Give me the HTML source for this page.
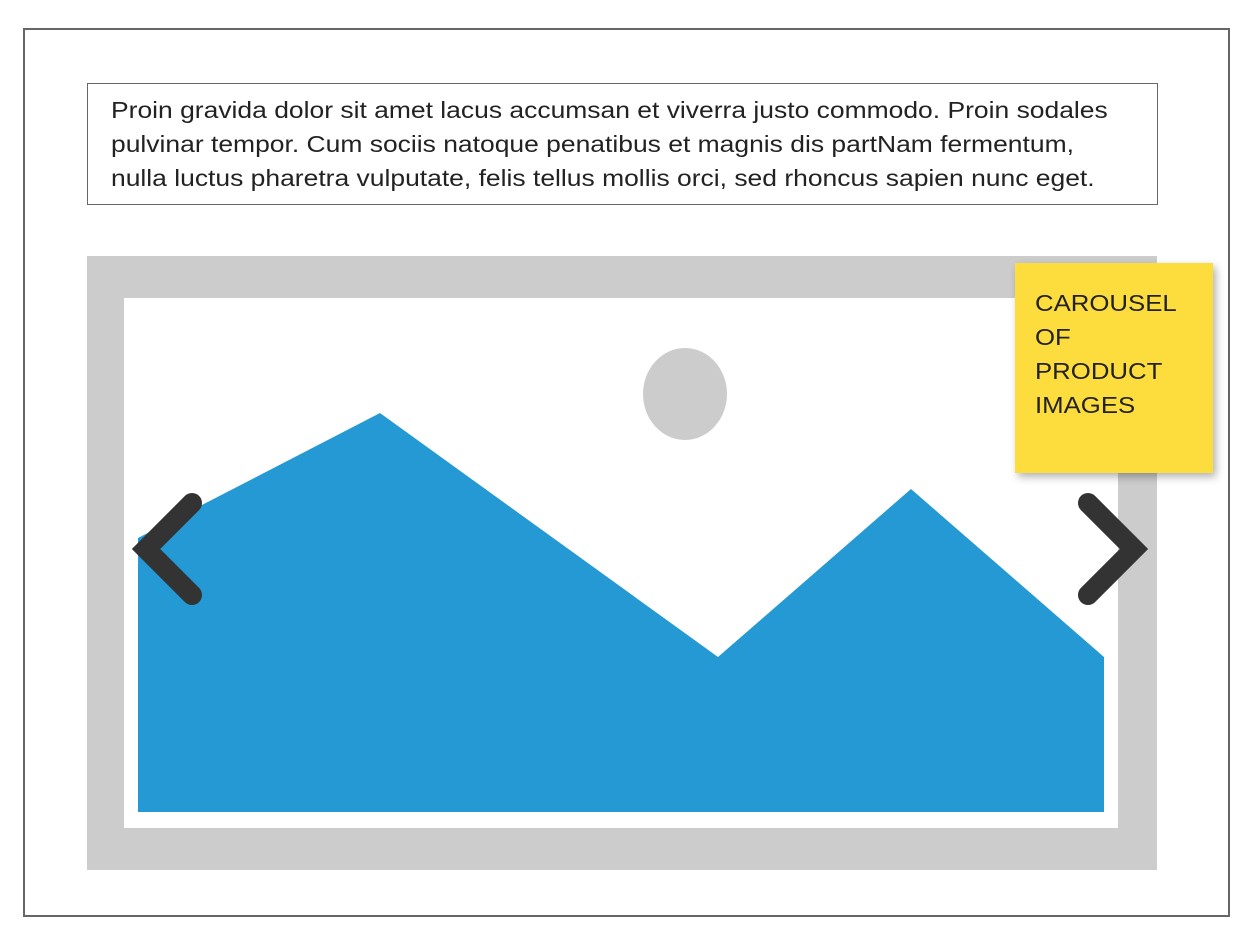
<!DOCTYPE html>
<html><head><meta charset="utf-8"><style>
html,body{margin:0;padding:0;background:#fff;width:1254px;height:944px;overflow:hidden;font-family:"Liberation Sans",Arial,sans-serif;}
.abs{position:absolute;box-sizing:border-box;}
.t{display:inline-block;transform-origin:0 0;white-space:nowrap;}
</style></head><body>
<div class="abs" style="left:23px;top:28px;width:1207px;height:889px;border:2px solid #666;"></div>
<div class="abs" style="left:87px;top:83px;width:1071px;height:122px;border:1.5px solid #666;padding:9px 0 0 23px;font-size:23px;line-height:34px;color:#222;"><span class="t" style="transform:scaleX(1.15);">Proin gravida dolor sit amet lacus accumsan et viverra justo commodo. Proin sodales<br>pulvinar tempor. Cum sociis natoque penatibus et magnis dis partNam fermentum,<br>nulla luctus pharetra vulputate, felis tellus mollis orci, sed rhoncus sapien nunc eget.</span></div>
<svg class="abs" style="left:0;top:0" width="1254" height="944">
<rect x="87" y="256" width="1070" height="614" fill="#cccccc"/>
<rect x="124" y="298" width="994" height="530" fill="#fff"/>
<polygon points="138,538 380,413 718,657 911,489 1104,657 1104,812 138,812" fill="#2599d3"/>
<ellipse cx="685" cy="394" rx="42" ry="46" fill="#cccccc"/>
<polyline points="192,503 146,549 192,595" fill="none" stroke="#333" stroke-width="20" stroke-linecap="round" stroke-linejoin="miter"/>
<polyline points="1088,503 1134,549 1088,595" fill="none" stroke="#333" stroke-width="20" stroke-linecap="round" stroke-linejoin="miter"/>
</svg>
<div class="abs" style="left:1015px;top:263px;width:198px;height:210px;background:#fddc3e;box-shadow:3px 4px 8px rgba(0,0,0,0.3);padding:23px 0 0 20px;font-size:23px;line-height:34px;color:#222;"><span class="t" style="transform:scaleX(1.12);">CAROUSEL<br>OF<br>PRODUCT<br>IMAGES</span></div>
</body></html>
